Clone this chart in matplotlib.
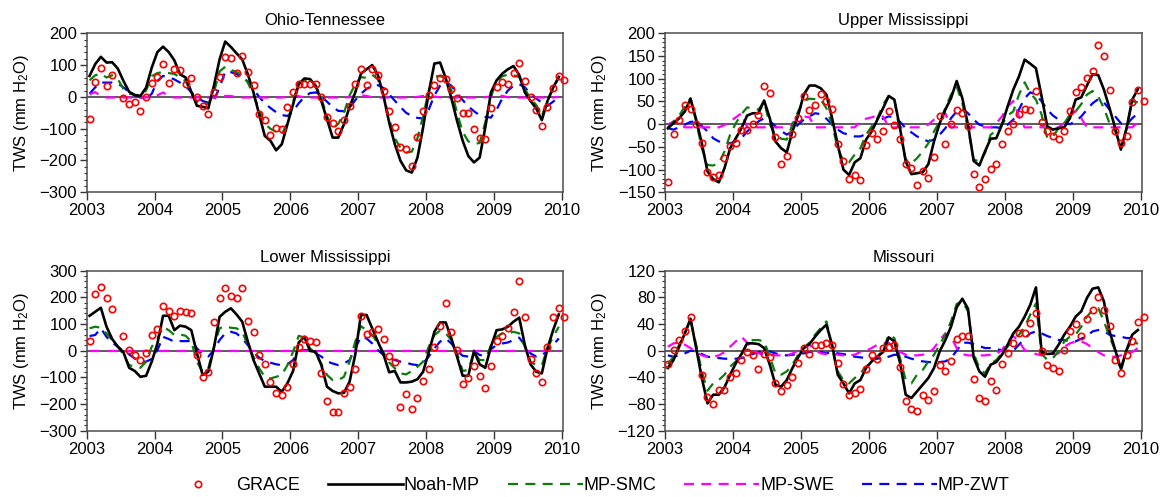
"""
Terrestrial water storage anomalies, 2003-2009, for four Mississippi sub-basins:
GRACE versus Noah-MP and its three groundwater/snow/soil-moisture variants.
"""

import numpy as np
import matplotlib.pyplot as plt
from matplotlib.lines import Line2D
from matplotlib.ticker import MultipleLocator, AutoMinorLocator

plt.rcParams['font.family'] = ['Liberation Sans', 'DejaVu Sans']
plt.rcParams['mathtext.fontset'] = 'custom'
plt.rcParams['mathtext.rm'] = 'Liberation Sans'
plt.rcParams['mathtext.default'] = 'regular'

nan = np.nan

# ── Monthly TWS anomalies (mm H2O), Jan 2003 - Dec 2009 (GRACE to Jan 2010) ──

# Ohio-Tennessee
OT_GRACE = [-70, 47, 90, 35, 69, nan, -2, -23, -16, -44, 0, 45,
            64, 103, 45, 89, 84, 40, 58, 0, -28, -55, 16, 63,
            127, 121, 74, 129, 77, 38, -55, -73, -121, -99, -102, -31,
            14, 42, 40, 42, 42, 0, -62, -83, -107, -72, -28, 40,
            89, 38, 87, 69, 17, -44, -94, -159, -165, -217, -126, -44,
            5, 38, 59, 56, 24, -4, -52, -52, -100, -130, -133, -36,
            31, 47, 40, 74, 108, 50, 0, -42, -93, -31, 29, 66, 52]
OT_NOAH = [66, 103, 126, 108, 109, 89, 50, 16, 6, 3, 29, 92,
           141, 158, 141, 115, 71, 61, 16, -28, -31, -36, 35, 118,
           174, 157, 137, 118, 71, 14, -55, -123, -138, -168, -149, -86,
           -23, 40, 58, 56, 35, -13, -70, -128, -128, -86, -31, 14,
           73, 87, 100, 69, 3, -81, -149, -201, -231, -238, -191, -96,
           14, 105, 108, 59, -4, -75, -138, -186, -206, -191, -96, 14,
           52, 73, 87, 97, 69, 14, -13, -36, -73, -13, 29, 63]
OT_SMC = [52, 68, 73, 61, 68, 56, 25, 10, 6, 3, 20, 65,
          75, 78, 75, 72, 62, 50, 10, -15, -20, -22, 15, 80,
          95, 85, 78, 68, 45, 5, -40, -85, -100, -110, -118, -80,
          -15, 45, 50, 48, 35, -5, -60, -100, -85, -50, 5, 40,
          62, 60, 70, 55, 5, -70, -130, -160, -175, -172, -130, -60,
          20, 65, 65, 60, 20, -50, -110, -140, -148, -145, -80, 0,
          50, 65, 70, 68, 62, 25, -5, -25, -60, -10, 25, 62]
OT_SWE = [8, 15, 3, -2, -2, -2, -2, -2, -2, -2, -2, 0,
          5, 14, 3, -2, -2, -2, -2, -2, -2, -2, -2, 0,
          3, 3, -1, -2, -2, -2, -2, -2, -2, -2, -2, 0,
          3, 2, -1, -2, -2, -2, -2, -2, -2, -2, -1, 2,
          5, 3, -1, -2, -2, -2, -2, -2, -2, -2, 0, 3,
          3, 1, -1, -2, -2, -2, -2, -2, -2, -2, -1, 2,
          5, 3, -1, -2, -2, -2, -2, -2, -2, -2, -2, 0]
OT_ZWT = [10, 30, 45, 45, 45, 42, 30, 15, 5, -2, -7, 10,
          50, 66, 62, 55, 45, 35, 14, 0, -13, -18, -10, 30,
          80, 78, 72, 62, 48, 25, 0, -20, -35, -48, -57, -60,
          -45, -20, 0, 12, 14, 2, -15, -32, -44, -45, -35, -10,
          10, 25, 35, 37, 28, 8, -12, -32, -50, -60, -66, -68,
          -40, 5, 35, 47, 35, 12, -10, -30, -45, -58, -63, -65,
          -40, -5, 20, 35, 40, 30, 10, -5, -18, -28, -15, 0]

# Upper Mississippi
UM_GRACE = [-128, -22, 10, 43, 33, 1, -42, -106, -117, -112, -75, -49,
            -42, -12, -12, 1, 21, 85, 68, -29, -88, -70, -22, 13,
            61, 32, 43, 67, 51, 34, -44, -82, -120, -112, -123, -45,
            -20, -33, -16, 28, -1, -33, -88, -97, -134, -103, -119, -73,
            19, -44, 1, 32, 24, -5, -109, -139, -121, -99, -88, -43,
            -14, 1, 22, 34, 32, 72, 4, -14, -25, -32, -14, 30,
            70, 81, 101, 116, 175, 151, 75, -15, -42, -26, 48, 75, 50]
UM_NOAH = [-9, 2, 13, 28, 56, 10, -42, -104, -121, -128, -97, -53,
           -31, -9, 19, 24, 24, 52, 13, -38, -53, -62, -16, 19,
           65, 85, 85, 79, 65, 13, -45, -100, -112, -84, -75, -34,
           -16, 10, 35, 62, 54, -9, -82, -110, -108, -106, -88, -38,
           2, 32, 57, 95, 57, -1, -81, -91, -60, -32, -31, -1,
           39, 76, 105, 142, 133, 123, 61, -5, -12, -9, -7, 13,
           54, 59, 85, 110, 108, 76, 35, -9, -56, -9, 54, 77]
UM_SMC = [-7, 6, 19, 39, 57, 6, -53, -90, -91, -86, -60, -23,
          2, 22, 37, 34, 32, 50, -1, -23, -32, -34, -1, 28,
          51, 56, 55, 54, 35, -1, -53, -81, -84, -67, -53, -23,
          -5, 13, 43, 62, 54, -20, -78, -86, -75, -60, -42, -16,
          6, 35, 65, 83, 46, -9, -78, -82, -64, -23, -15, -1,
          19, 28, 65, 92, 68, 54, 21, -31, -27, -9, 2, 21,
          28, 44, 65, 73, 61, 35, 2, -16, -53, -9, 50, 48]
UM_SWE = [-1, 6, 2, -7, -7, -7, -7, -7, -7, -7, -2, 6,
          15, 24, -7, -7, -7, -7, -7, -7, -7, -7, 2, 10,
          17, 15, -7, -7, -7, -7, -7, -7, -7, -7, 6, 12,
          15, 19, 17, -7, -7, -7, -7, -7, -7, -7, -1, 10,
          17, 24, -7, -7, -7, -7, -7, -7, -7, -7, 2, 17,
          39, 51, 17, -7, -7, -7, -7, -7, -7, -7, 2, 19,
          29, 13, -7, -7, -7, -7, -7, -7, -7, -7, -7, 4]
UM_ZWT = [-9, -12, -7, -1, 5, 6, -4, -16, -31, -38, -40, -42,
          -38, -31, -16, -5, 6, 13, 7, -5, -15, -23, -16, -1,
          10, 17, 24, 22, 12, -1, -12, -20, -23, -27, -27, -22,
          -10, 5, 12, 17, 15, 5, -9, -18, -27, -33, -38, -34,
          -23, -9, 13, 28, 34, 24, 10, -1, -5, -7, -7, -9,
          -1, 10, 32, 57, 70, 65, 50, 32, 19, 10, 2, 0,
          6, 17, 32, 46, 55, 48, 32, 17, 2, -1, 13, 24]

# Lower Mississippi
LM_GRACE = [36, 211, 240, 196, 155, nan, 56, 2, -16, -35, -10, 59,
            80, 169, 150, 131, 149, 146, 142, -16, -98, -81, 106, 196,
            236, 206, 196, 236, 111, 71, -16, -51, -119, -160, -166, -137,
            -51, 15, 44, 37, 34, -82, -189, -229, -229, -160, -135, -70,
            131, 61, 71, 81, 44, -19, -41, -210, -162, -220, -176, -112,
            -69, 15, 94, 180, 69, 2, -126, -101, -56, -95, -141, -56,
            36, 55, 86, 146, 261, 125, -31, -85, -119, 15, 125, 161, 125]
LM_NOAH = [131, 146, 161, 90, 44, 15, -6, -64, -76, -98, -94, -41,
           27, 131, 131, 77, 94, 90, 77, -10, -91, -79, 11, 127,
           146, 159, 136, 109, 34, -35, -85, -135, -135, -135, -154, -122,
           -76, 31, 52, -1, -4, -54, -135, -151, -160, -158, -116, -14,
           134, 134, 84, 34, -14, -81, -76, -119, -119, -116, -107, -79,
           -6, 71, 106, 106, 46, -22, -94, -94, -1, -51, -64, 15,
           77, 80, 90, 109, 124, 21, -51, -79, -85, 9, 77, 136]
LM_SMC = [84, 90, 86, 65, 40, 15, -14, -54, -60, -64, -41, 15,
          44, 90, 77, 59, 61, 56, 34, -41, -81, -66, 15, 84,
          92, 86, 84, 71, 21, -22, -66, -98, -104, -98, -91, -54,
          -4, 56, 49, 9, -10, -50, -91, -110, -110, -98, -41, 34,
          92, 77, 59, 27, -6, -44, -66, -85, -89, -76, -60, -41,
          15, 59, 75, 65, 40, -10, -76, -72, -6, -35, -35, 21,
          52, 65, 65, 71, 65, 15, -41, -54, -54, 9, 52, 90]
LM_SWE = [0, 0, 0, 0, 0, 0, 0, 0, 0, 0, 0, 0,
          0, 0, 0, 0, 0, 0, 0, 0, 0, 0, 0, 0,
          0, 0, 0, 0, 0, 0, 0, 0, 0, 0, 0, 0,
          0, 0, 0, 0, 0, 0, 0, 0, 0, 0, 0, 0,
          0, 0, 0, 0, 0, 0, 0, 0, 0, 0, 0, 0,
          0, 0, 0, 0, 0, 0, 0, 0, 0, 0, 0, 0,
          0, 0, 0, 0, 0, 0, 0, 0, 0, 0, 0, 0]
LM_ZWT = [55, 59, 84, 52, 31, 15, -1, -14, -29, -41, -41, -31,
          2, 52, 44, 34, 36, 36, 36, 9, -14, -22, 2, 40,
          65, 71, 65, 46, 21, -6, -26, -39, -45, -51, -54, -51,
          -35, -1, 2, 2, -10, -22, -40, -48, -54, -48, -35, 9,
          52, 46, 27, 2, -16, -29, -35, -41, -45, -51, -54, -48,
          -22, 9, 34, 46, 27, -1, -19, -22, -1, -16, -19, 6,
          21, 27, 31, 40, 49, 21, -10, -22, -19, 2, 21, 46]

# Missouri
MO_GRACE = [-20, 1, 16, 30, 50, nan, -36, -70, -80, -59, -59, -39,
            -34, -14, -2, -7, -27, -5, -10, -49, -60, -52, -39, -19,
            4, -5, 8, 8, 11, 9, -19, -50, -67, -64, -57, -27,
            -7, -12, 4, 6, 9, -25, -75, -87, -90, -66, -74, -60,
            -22, -30, -15, 18, 22, 22, -43, -71, -76, -46, -59, -20,
            -4, 11, 26, 27, 42, 57, 0, -22, -26, -31, 1, 30,
            40, 22, 47, 61, 80, 61, 37, -14, -33, -6, 15, 43, 50]
MO_NOAH = [-26, -14, 6, 26, 48, 4, -41, -79, -66, -66, -55, -36,
           -19, -5, 11, 11, 10, 4, -21, -51, -54, -44, -26, -10,
           4, 10, 21, 31, 39, 9, -36, -49, -64, -49, -44, -26,
           -16, -9, -2, 20, 14, -18, -66, -71, -61, -51, -41, -26,
           -1, 16, 36, 65, 78, 63, -10, -31, -39, -21, -17, -6,
           9, 26, 36, 51, 69, 95, -2, -5, -4, 9, 24, 36,
           51, 59, 79, 93, 95, 74, 29, 1, -27, 1, 24, 31]
MO_SMC = [-20, -9, 9, 26, 46, 9, -31, -60, -49, -44, -36, -24,
          -16, -7, 12, 16, 16, 14, -9, -34, -36, -31, -21, -6,
          4, 12, 24, 34, 44, 4, -31, -44, -49, -41, -34, -24,
          -16, -9, 1, 24, 19, -11, -44, -49, -36, -29, -16, -6,
          9, 24, 44, 70, 74, 59, -4, -26, -34, -19, -14, -4,
          6, 16, 24, 36, 54, 71, -4, -14, -11, -1, 14, 21,
          24, 36, 51, 61, 64, 44, 21, 0, -31, 1, 16, 10]
MO_SWE = [6, 11, 12, 9, 4, -2, -7, -9, -9, -7, -2, 6,
          14, 21, 12, 1, -4, -5, -6, -7, -7, -7, -4, 0,
          4, 9, 1, -4, -5, -4, -6, -7, -7, -6, -2, 0,
          4, 9, 11, 12, 4, -2, -6, -7, -7, -6, -4, 4,
          16, 26, 21, 4, -5, -7, -7, -7, -7, -6, -5, 1,
          14, 22, 14, 1, -2, -5, -7, -7, -5, -4, 6, 11,
          14, 14, 10, 4, -2, -7, -9, -9, -7, -5, -2, 4]
MO_ZWT = [-7, -9, -7, -4, 0, -1, -5, -9, -10, -11, -12, -12,
          -12, -11, -9, -5, -2, -1, -1, -4, -6, -7, -6, -5,
          -4, -2, -2, -2, -4, -2, -4, -5, -7, -9, -10, -11,
          -12, -12, -11, -9, -6, -7, -9, -12, -14, -16, -17, -17,
          -17, -16, -11, 0, 12, 12, 10, 7, 4, 4, 2, 1,
          -1, 0, 9, 18, 26, 29, 26, 22, 19, 16, 16, 14,
          14, 18, 22, 29, 31, 29, 24, 22, 21, 19, 19, 19]

# mid-month decimal years
model_time = 2003 + (np.arange(84) + 0.5) / 12.0
grace_time = 2003 + (np.arange(85) + 0.5) / 12.0

TITLES = ['Ohio-Tennessee', 'Upper Mississippi', 'Lower Mississippi', 'Missouri']
YLIMS = [(-300, 200), (-150, 200), (-300, 300), (-120, 120)]
YSTEPS = [100, 50, 100, 40]
RECTS = [[0.0747, 0.6131, 0.4102, 0.3199],
         [0.5728, 0.6131, 0.4109, 0.3199],
         [0.0747, 0.1334, 0.4102, 0.3219],
         [0.5728, 0.1334, 0.4109, 0.3219]]

SERIES = [(OT_GRACE, OT_NOAH, OT_SMC, OT_SWE, OT_ZWT),
          (UM_GRACE, UM_NOAH, UM_SMC, UM_SWE, UM_ZWT),
          (LM_GRACE, LM_NOAH, LM_SMC, LM_SWE, LM_ZWT),
          (MO_GRACE, MO_NOAH, MO_SMC, MO_SWE, MO_ZWT)]

DASH = (0, (4.5, 3.3))
GREEN = '#0a7d0a'

fig = plt.figure(figsize=(11.61, 4.97), dpi=100)

for rect, title, ylim, ystep, (grace, noah, smc, swe, zwt) in zip(
        RECTS, TITLES, YLIMS, YSTEPS, SERIES):
    ax = fig.add_axes(rect)
    ax.axhline(0, color='0.25', lw=1.2, zorder=1)
    ax.plot(model_time, zwt, color='#0000ff', lw=1.6, ls=DASH, zorder=2)
    ax.plot(model_time, swe, color='#ff00ff', lw=1.6, ls=DASH, zorder=3)
    ax.plot(model_time, smc, color=GREEN, lw=1.6, ls=DASH, zorder=4)
    ax.plot(model_time, noah, color='black', lw=1.9, zorder=5)
    ax.plot(grace_time, grace, ls='none', marker='o', ms=4.6, mfc='none',
            mec='#ff0000', mew=1.2, zorder=6, clip_on=False)

    ax.set_xlim(2003, 2010.02)
    ax.set_ylim(*ylim)
    ax.xaxis.set_major_locator(MultipleLocator(1))
    ax.xaxis.set_major_formatter(plt.FuncFormatter(lambda v, p: f'{v:.0f}'))
    ax.yaxis.set_major_locator(MultipleLocator(ystep))
    ax.yaxis.set_minor_locator(AutoMinorLocator(5))
    ax.tick_params(axis='both', which='major', direction='out', labelsize=12,
                   width=1.0, color='0.2')
    ax.tick_params(axis='x', which='major', length=6, pad=2)
    ax.tick_params(axis='y', which='major', length=5, pad=2)
    ax.tick_params(axis='y', which='minor', direction='out', length=2.5,
                   width=0.8, color='0.2')
    for side in ax.spines.values():
        side.set_color('0.3')
        side.set_linewidth(1.1)

    ax.set_title(title, fontsize=12, pad=6)
    ax.set_ylabel('TWS (mm H$_2$O)', fontsize=12, labelpad=6)

# shared legend along the bottom
handles = [
    Line2D([], [], ls='none', marker='o', ms=4.6, mfc='none', mec='#ff0000', mew=1.2),
    Line2D([], [], color='black', lw=1.9),
    Line2D([], [], color=GREEN, lw=1.6, ls=DASH),
    Line2D([], [], color='#ff00ff', lw=1.6, ls=DASH),
    Line2D([], [], color='#0000ff', lw=1.6, ls=DASH),
]
labels = ['GRACE', 'Noah-MP', 'MP-SMC', 'MP-SWE', 'MP-ZWT']
fig.legend(handles, labels, loc='center', bbox_to_anchor=(585 / 1161, 1 - 486 / 497),
           ncol=5, frameon=False, fontsize=13, handlelength=4.15,
           handletextpad=0.05, columnspacing=1.55, borderpad=0)

fig.savefig('out.png', dpi=100)
